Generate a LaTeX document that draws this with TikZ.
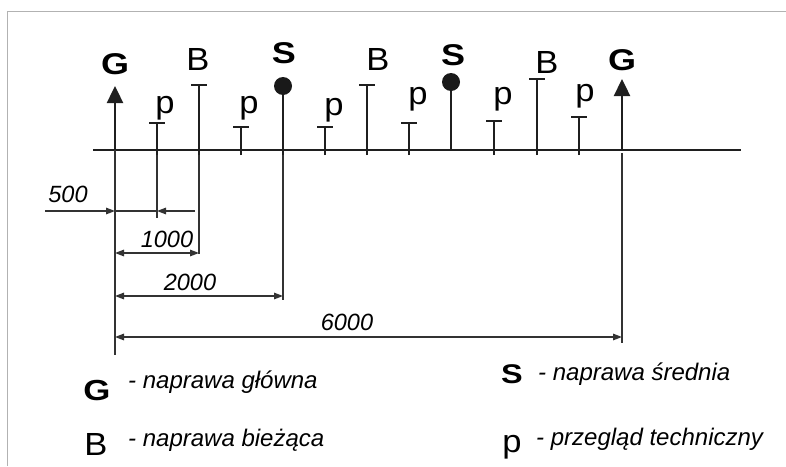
\documentclass[tikz,border=0pt]{standalone}
\usepackage{fontspec}
\setmainfont{Liberation Sans}
\newfontface\widebold[FakeStretch=1.2]{Liberation Sans Bold}
\newfontface\widereg[FakeStretch=1.08]{Liberation Sans}
\usetikzlibrary{arrows.meta}
\begin{document}
\begin{tikzpicture}[x=1pt,y=-1pt,
  axisline/.style={line width=2.8pt, draw=black!88},
  tickline/.style={line width=2.4pt, draw=black!88},
  extline/.style={line width=1.4pt, draw=black!80},
  dimline/.style={line width=1.4pt, draw=black!80},
  dimtip/.style={-{Triangle[length=9pt,width=6.5pt]}},
  bothtip/.style={{Triangle[length=9pt,width=6.5pt]}-{Triangle[length=9pt,width=6.5pt]}},
  bigtip/.style={-{Triangle[length=17pt,width=16pt]}},
  frameline/.style={draw=black!30, line width=0.9pt},
  lblbold/.style={font=\widebold\fontsize{30}{32}\selectfont, anchor=base, inner sep=0pt},
  lblreg/.style={font=\widereg\fontsize{32}{34}\selectfont, anchor=base, inner sep=0pt},
  lblp/.style={font=\widereg\fontsize{32}{34}\selectfont, anchor=base, inner sep=0pt},
  dimlbl/.style={font=\itshape\fontsize{23.5}{26}\selectfont, anchor=base, inner sep=0pt},
  legtext/.style={font=\itshape\fontsize{24}{26}\selectfont, anchor=base west, inner sep=0pt},
]
\useasboundingbox (0,0) rectangle (786,466);
% frame
\coordinate (fr1) at (7,466);
\coordinate (fr2) at (7,11);
\coordinate (fr3) at (786,11);
\draw[frameline] (fr1) -- (fr2) -- (fr3);

% axis
\coordinate (axL) at (93,150);
\coordinate (axR) at (741,150);
\draw[axisline] (axL) -- (axR);

% tick bases (slightly below axis) and tops
\foreach \n/\x/\t in {p1/157/123, B1/199/85, p2/241/127, p3/325/127, B2/367/85, p4/409/123, p5/494/121, B3/537/79, p6/579/117}{
  \coordinate (\n b) at (\x,155);
  \coordinate (\n t) at (\x,\t);
  \draw[tickline] (\n b) -- (\n t);
  \draw[tickline] ([xshift=-8pt]\n t) -- ([xshift=8pt]\n t);
}
% S ticks with dots
\coordinate (S1b) at (283,155);
\coordinate (S1t) at (283,86);
\coordinate (S2b) at (451,150);
\coordinate (S2t) at (451,82);
\draw[tickline] (S1b) -- (S1t);
\draw[tickline] (S2b) -- (S2t);
\fill[black!90] (S1t) circle (9pt);
\fill[black!90] (S2t) circle (9pt);
% G arrows
\coordinate (G1b) at (115,150);
\coordinate (G1t) at (115,86);
\coordinate (G2b) at (622,150);
\coordinate (G2t) at (622,79);
\draw[tickline, bigtip] (G1b) -- (G1t);
\draw[tickline, bigtip] (G2b) -- (G2t);

% labels above
\node[lblbold] (lG1) at (115,74) {G};
\node[lblp] (lp1) at (165,113) {p};
\node[lblreg] (lB1) at (198,70) {B};
\node[lblp] (lp2) at (249,113) {p};
\node[lblbold] (lS1) at (284,63) {S};
\node[lblp] (lp3) at (334,115) {p};
\node[lblreg] (lB2) at (378,70) {B};
\node[lblp] (lp4) at (418,104) {p};
\node[lblbold] (lS2) at (453,65) {S};
\node[lblp] (lp5) at (503,104) {p};
\node[lblreg] (lB3) at (547,73) {B};
\node[lblp] (lp6) at (585,101) {p};
\node[lblbold] (lG2) at (622,70) {G};

% extension lines
\coordinate (eG1) at (115,355);
\coordinate (ep1) at (157,218);
\coordinate (eB1) at (199,254);
\coordinate (eS1) at (283,300);
\coordinate (eG2a) at (622,153);
\coordinate (eG2) at (622,343);
\draw[extline] (G1b) -- (eG1);
\draw[extline] (p1b) -- (ep1);
\draw[extline] (B1b) -- (eB1);
\draw[extline] (S1b) -- (eS1);
\draw[extline] (eG2a) -- (eG2);

% dimension 500
\coordinate (d5a) at (45,211);
\coordinate (d5b) at (115,211);
\coordinate (d5c) at (157,211);
\coordinate (d5d) at (195,211);
\draw[dimline, dimtip] (d5a) -- (d5b);
\draw[dimline] (d5b) -- (d5c);
\draw[dimline, dimtip] (d5d) -- (d5c);
\node[dimlbl] (t500) at (68,202) {500};

% dimension 1000
\coordinate (d1a) at (115,253);
\coordinate (d1b) at (199,253);
\draw[dimline, bothtip] (d1a) -- (d1b);
\node[dimlbl] (t1000) at (167,247) {1000};

% dimension 2000
\coordinate (d2a) at (115,296);
\coordinate (d2b) at (283,296);
\draw[dimline, bothtip] (d2a) -- (d2b);
\node[dimlbl] (t2000) at (190,290) {2000};

% dimension 6000
\coordinate (d6a) at (115,337);
\coordinate (d6b) at (622,337);
\draw[dimline, bothtip] (d6a) -- (d6b);
\node[dimlbl] (t6000) at (347,330) {6000};

% legend
\node[font=\widebold\fontsize{29}{31}\selectfont, anchor=base, inner sep=0pt] (legG) at (97,400) {G};
\node[legtext] (legGt) at (128,388) {- naprawa główna};
\node[font=\widereg\fontsize{32}{34}\selectfont, anchor=base, inner sep=0pt] (legB) at (96,455) {B};
\node[legtext] (legBt) at (128,446) {- naprawa bieżąca};
\node[font=\widebold\fontsize{27}{29}\selectfont, anchor=base, inner sep=0pt] (legS) at (512,383) {S};
\node[legtext] (legSt) at (538,380) {- naprawa średnia};
\node[font=\widereg\fontsize{32}{34}\selectfont, anchor=base, inner sep=0pt] (legp) at (512,452) {p};
\node[legtext] (legpt) at (536,445) {- przegląd techniczny};
\end{tikzpicture}
\end{document}
